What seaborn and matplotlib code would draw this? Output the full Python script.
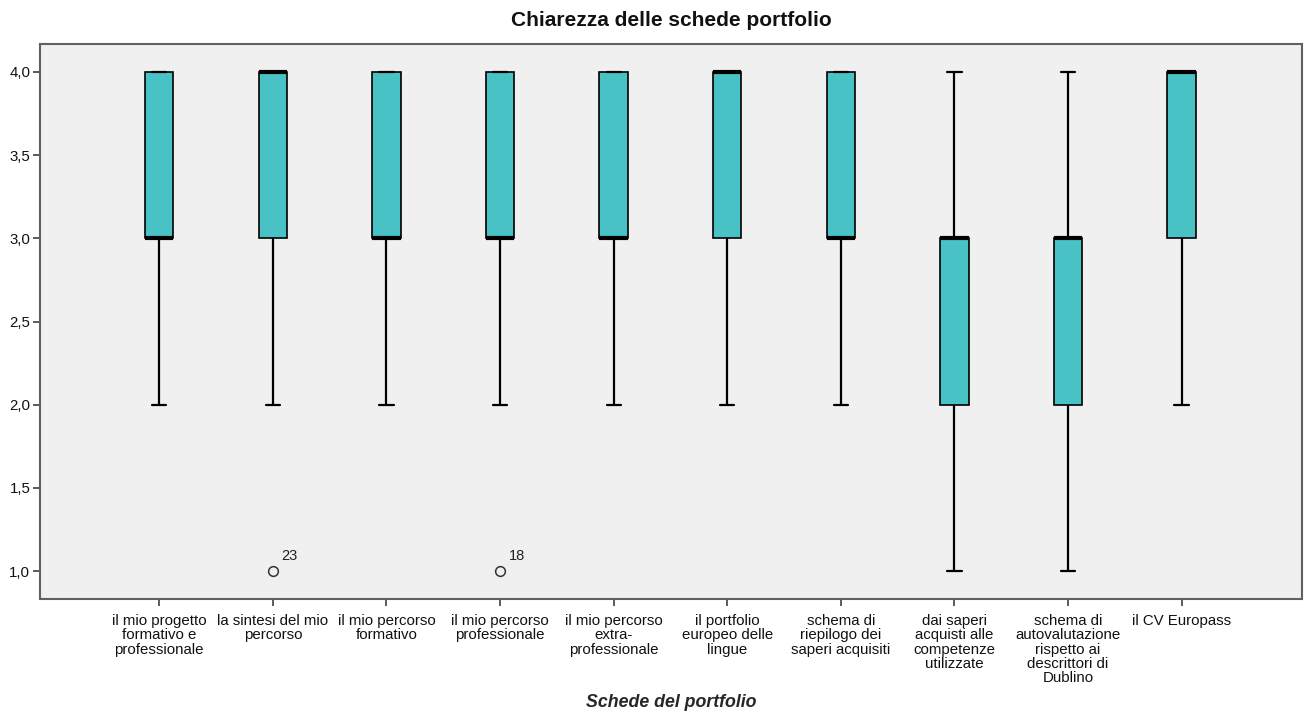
# Boxplot: chiarezza delle schede portfolio (risposte Likert 1-4)
import numpy as np
import pandas as pd
import seaborn as sns
import matplotlib.pyplot as plt
from matplotlib.ticker import FuncFormatter

sns.set_style("ticks")
plt.rcParams['font.family'] = ['Liberation Sans', 'DejaVu Sans']

# -----------------------------
# DATA
# -----------------------------
schede = [
    "il mio progetto\nformativo e\nprofessionale",
    "la sintesi del mio\npercorso",
    "il mio percorso\nformativo",
    "il mio percorso\nprofessionale",
    "il mio percorso\nextra-\nprofessionale",
    "il portfolio\neuropeo delle\nlingue",
    "schema di\nriepilogo dei\nsaperi acquisiti",
    "dai saperi\nacquisti alle\ncompetenze\nutilizzate",
    "schema di\nautovalutazione\nrispetto ai\ndescrittori di\nDublino",
    "il CV Europass",
]

# number of answers per score (1, 2, 3, 4) for each scheda
punteggi = [1, 2, 3, 4]
n_1 = [0, 1, 0, 1, 0, 0, 0, 2, 1, 0]
n_2 = [3, 2, 2, 2, 2, 2, 3, 6, 7, 3]
n_3 = [12, 8, 13, 11, 12, 9, 11, 12, 13, 8]
n_4 = [10, 14, 10, 11, 11, 14, 11, 5, 4, 14]

# labelled outliers (case numbers)
outlier_scheda = [1, 3]
outlier_valore = [1.0, 1.0]
outlier_caso = ["23", "18"]

rows = []
for i, s in enumerate(schede):
    for p, n in zip(punteggi, [n_1[i], n_2[i], n_3[i], n_4[i]]):
        rows += [(s, p)] * n
df = pd.DataFrame(rows, columns=['Scheda', 'Valore'])

# -----------------------------
# PLOT
# -----------------------------
fig, ax = plt.subplots(figsize=(13.06, 7.16), dpi=100)
fig.subplots_adjust(left=40/1306, right=1302/1306, top=1-44/716, bottom=1-599/716)

sns.boxplot(
    data=df, x='Scheda', y='Valore', order=schede,
    color='#48C2C5', saturation=1, width=0.25,
    linecolor='black', linewidth=1.2,
    whiskerprops={'linewidth': 1.6},
    capprops={'linewidth': 1.6},
    medianprops={'linewidth': 3, 'color': 'black'},
    flierprops={'marker': 'o', 'markerfacecolor': 'none',
                'markeredgecolor': '#333333', 'markersize': 7,
                'markeredgewidth': 1.1},
    ax=ax,
)

for xi, yv, lab in zip(outlier_scheda, outlier_valore, outlier_caso):
    ax.annotate(lab, (xi, yv), xytext=(6, 6), textcoords='offset points',
                ha='left', va='bottom', fontsize=10.5, color='#222222')

ax.set_facecolor('#F0F0F0')
for sp in ax.spines.values():
    sp.set_color('#606060')
    sp.set_linewidth(1.5)

ax.set_xlim(-1.05, 10.06)
ax.set_ylim(0.832, 4.168)
ax.set_yticks([1.0, 1.5, 2.0, 2.5, 3.0, 3.5, 4.0])
ax.yaxis.set_major_formatter(FuncFormatter(lambda v, p: f"{v:.1f}".replace('.', ',')))
ax.tick_params(axis='both', direction='out', length=5, width=1.2, color='#404040',
               labelsize=10.8, labelcolor='#111111')
ax.tick_params(axis='y', pad=2)
ax.tick_params(axis='x', pad=6)
plt.setp(ax.get_xticklabels(), linespacing=1.02, va='top', ha='center')

ax.set_title("Chiarezza delle schede portfolio", fontsize=15, fontweight='bold',
             color='#111111', pad=13)
ax.set_xlabel("Schede del portfolio", fontsize=12.8, fontweight='bold',
              fontstyle='italic', va='center')
ax.xaxis.set_label_coords(0.5, -0.187)
ax.set_ylabel("")

plt.savefig("out.png", dpi=100)
